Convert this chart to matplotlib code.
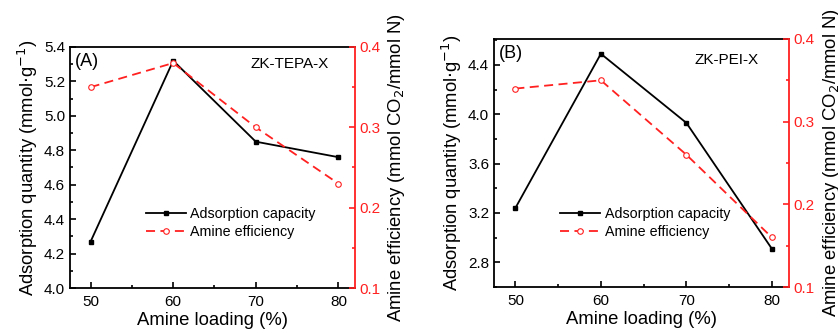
import matplotlib
matplotlib.use("Agg")
import matplotlib.pyplot as plt
from matplotlib.ticker import MultipleLocator

plt.rcParams['font.family'] = ['Liberation Sans', 'DejaVu Sans']

loading = [50, 60, 70, 80]

# panel A - ZK-TEPA-X
cap_tepa = [4.27, 5.32, 4.85, 4.76]
eff_tepa = [0.35, 0.38, 0.30, 0.23]

# panel B - ZK-PEI-X
cap_pei = [3.24, 4.49, 3.93, 2.91]
eff_pei = [0.34, 0.35, 0.26, 0.16]

fig = plt.figure(figsize=(8.38, 3.33), dpi=100)


def panel(rect, cap, eff, ylim, ymaj, ymin, tag, name, name_xy, leg_xy):
    ax = fig.add_axes(rect)
    ax2 = ax.twinx()

    ax.plot(loading, cap, '-s', color='black', lw=1.3, ms=3.5,
            label='Adsorption capacity')
    ax2.plot(loading, eff, '--o', color='#ff2020', lw=1.3, ms=4,
             mfc='white', mec='#ff2020', mew=0.8, dashes=(5, 3),
             label='Amine efficiency')

    ax.set_xlim(47.5, 82)
    ax.set_ylim(*ylim)
    ax2.set_ylim(0.1, 0.4)

    ax.xaxis.set_major_locator(MultipleLocator(10))
    ax.xaxis.set_minor_locator(MultipleLocator(5))
    ax.yaxis.set_major_locator(MultipleLocator(ymaj))
    ax.yaxis.set_minor_locator(MultipleLocator(ymin))
    ax2.yaxis.set_major_locator(MultipleLocator(0.1))
    ax2.yaxis.set_minor_locator(MultipleLocator(0.05))

    ax.tick_params(which='both', direction='in', labelsize=11, width=1.2)
    ax.tick_params(which='major', length=4)
    ax.tick_params(which='minor', length=2.5)
    ax.tick_params(axis='x', pad=5)
    ax2.tick_params(which='both', direction='in', labelsize=11, width=1.2,
                    colors='#ff2020')
    ax2.tick_params(which='major', length=4)
    ax2.tick_params(which='minor', length=2.5)

    for s in ax.spines.values():
        s.set_linewidth(1.3)
    ax.spines['right'].set_visible(False)
    for k, s in ax2.spines.items():
        s.set_linewidth(1.3)
        if k != 'right':
            s.set_visible(False)
    ax2.spines['right'].set_color('#ff2020')

    ax.set_xlabel('Amine loading (%)', fontsize=13.3, labelpad=2)
    ax.set_ylabel(r'Adsorption quantity (mmol$\cdot$g$^{-1}$)', fontsize=13.2,
                  labelpad=3)
    ax2.set_ylabel(r'Amine efficiency (mmol CO$_2$/mmol N)', fontsize=13.3,
                   labelpad=4)

    ax.text(0.018, 0.94, tag, transform=ax.transAxes, fontsize=13,
            va='center', ha='left')
    ax.text(name_xy[0], name_xy[1], name, transform=ax.transAxes,
            fontsize=11, va='center', ha='center')

    h1, l1 = ax.get_legend_handles_labels()
    h2, l2 = ax2.get_legend_handles_labels()
    ax2.legend(h1 + h2, l1 + l2, loc='upper left', bbox_to_anchor=leg_xy,
               frameon=False, fontsize=10.3, handlelength=2.8,
               handletextpad=0.3, labelspacing=0.3, borderaxespad=0)


panel([0.0835, 0.135, 0.340, 0.724], cap_tepa, eff_tepa, (4.0, 5.4), 0.2, 0.1,
      '(A)', 'ZK-TEPA-X', (0.77, 0.93), (0.245, 0.36))
panel([0.5895, 0.138, 0.352, 0.745], cap_pei, eff_pei, (2.6, 4.61), 0.4, 0.2,
      '(B)', 'ZK-PEI-X', (0.79, 0.915), (0.205, 0.345))

fig.savefig('out.png', dpi=100)
